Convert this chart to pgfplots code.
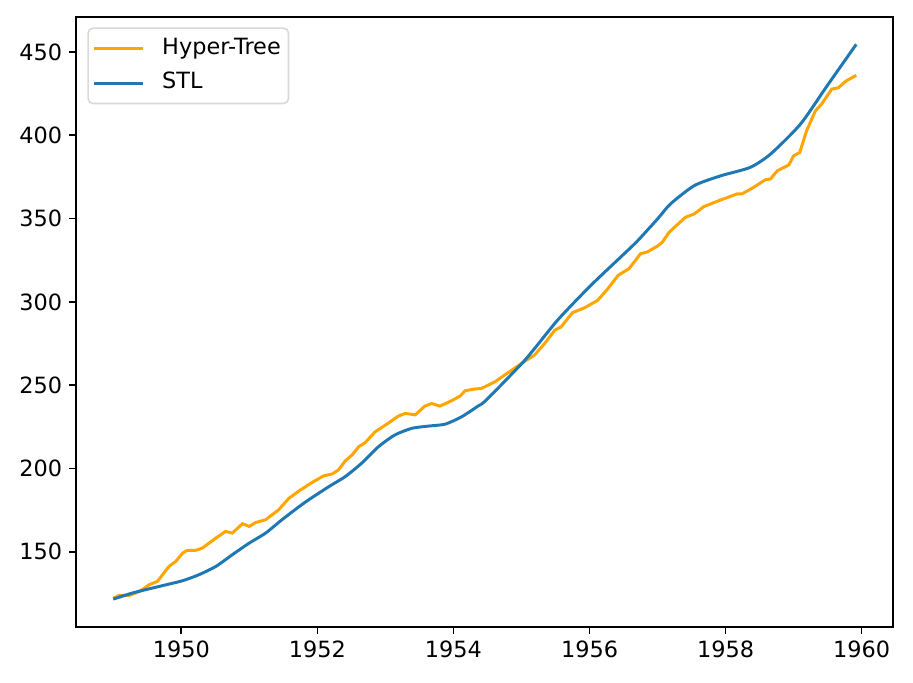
\documentclass[border=0pt]{standalone}
\usepackage{pgfplots}
\pgfplotsset{compat=1.18}
\usepackage{fontspec}
\setmainfont{DejaVu Sans}
\definecolor{mplorange}{RGB}{255,165,0}
\definecolor{mplblue}{RGB}{31,119,180}
\begin{document}
\begin{tikzpicture}
\useasboundingbox (-38.4pt,-27.8pt) rectangle (422.4pt,316.5pt);
\begin{axis}[
  at={(0,0)}, anchor=south west,
  scale only axis, width=412.4pt, height=307.9pt,
  xmin=1948.454, xmax=1960.463, ymin=104.75, ymax=471,
  xtick={1950,1952,1954,1956,1958,1960},
  ytick={150,200,250,300,350,400,450},
  /pgf/number format/1000 sep={},
  /pgf/number format/assume math mode=true,
  tick align=outside, tick pos=left,
  major tick length=3.5pt,
  every tick/.style={black, line width=0.8pt},
  axis line style={line width=0.8pt},
  ticklabel style={font=\fontsize{11.3}{13}\selectfont},
  legend style={font=\fontsize{11.3}{13}\selectfont, draw=black!15, line width=0.8pt, rounded corners=2.5pt,
    at={(0.0138,0.983)}, anchor=north west, inner xsep=2.4pt, inner ysep=3.4pt, row sep=3.6pt,
    nodes={inner sep=1.5pt, text depth=0.25em}},
  legend cell align=left,
  legend image code/.code={\draw[#1] (0pt,0pt) -- (24.7pt,0pt); \path (32pt,0pt);},
]
\addplot[mplorange, line width=1.5pt] coordinates {
(1949.0,122)(1949.09,123.8)(1949.24,123.8)(1949.39,126.2)(1949.53,130.2)(1949.65,132.2)(1949.82,141.2)(1949.92,144.2)(1950.02,149.2)(1950.09,150.8)(1950.21,150.8)(1950.31,152.2)(1950.51,158.2)(1950.65,162.2)(1950.75,161.2)(1950.9,166.8)(1951.0,165.2)(1951.09,167.5)(1951.24,169.2)(1951.43,175.1)(1951.58,182)(1951.73,186.5)(1951.92,191.5)(1952.09,195.5)(1952.22,196.7)(1952.31,199.1)(1952.41,204.5)(1952.51,208.1)(1952.61,213.1)(1952.7,215.4)(1952.85,222)(1953.05,227.4)(1953.19,231.4)(1953.29,233)(1953.44,232.2)(1953.58,237.4)(1953.68,239)(1953.8,237.4)(1953.97,240.6)(1954.1,243.5)(1954.17,246.6)(1954.3,247.6)(1954.41,248)(1954.61,252)(1954.8,257.4)(1955.0,263)(1955.19,268)(1955.34,275)(1955.49,283)(1955.58,284.9)(1955.75,293.5)(1955.93,296.5)(1956.12,300.9)(1956.27,307.9)(1956.42,315.9)(1956.58,319.9)(1956.75,328.9)(1956.85,330)(1957.0,333.5)(1957.07,335.8)(1957.17,341.8)(1957.41,350.8)(1957.54,352.8)(1957.68,357.2)(1957.93,361.2)(1958.17,364.8)(1958.24,364.8)(1958.41,368.7)(1958.58,373.2)(1958.66,373.8)(1958.76,378.7)(1958.93,382.2)(1959.0,387.7)(1959.09,389.7)(1959.19,402.7)(1959.32,414.7)(1959.41,418.7)(1959.56,427.7)(1959.66,428.6)(1959.77,432.6)(1959.92,436)
};
\addlegendentry{Hyper-Tree}
\addplot[mplblue, line width=1.5pt, smooth, tension=0.4] coordinates {
(1949.0,121.5)(1949.29,125.3)(1949.68,129.2)(1950.02,132.6)(1950.26,136.2)(1950.51,141.2)(1950.75,148.2)(1951.0,155.2)(1951.24,161.2)(1951.48,169.2)(1951.73,177)(1951.87,181.1)(1952.17,189.1)(1952.41,195.1)(1952.65,203.1)(1952.9,213.1)(1953.14,220.1)(1953.39,224.1)(1953.63,225.4)(1953.88,226.6)(1954.12,231)(1954.36,237.4)(1954.48,241)(1955.05,265)(1955.53,289)(1956.02,309.9)(1956.51,328.9)(1956.71,336.8)(1957.0,349.8)(1957.19,358.8)(1957.54,369.8)(1957.93,375.7)(1958.36,380.7)(1958.66,388.7)(1959.1,406.7)(1959.49,429.6)(1959.92,454.6)
};
\addlegendentry{STL}
\end{axis}
\end{tikzpicture}
\end{document}
